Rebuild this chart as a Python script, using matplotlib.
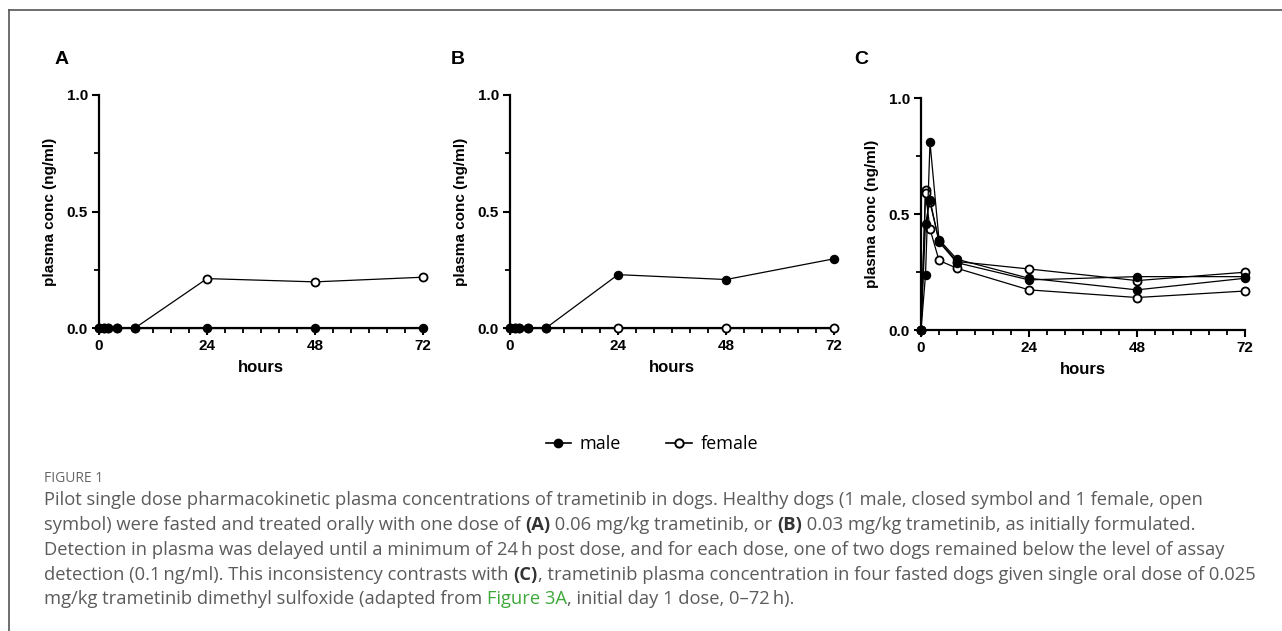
import matplotlib.pyplot as plt
from matplotlib.lines import Line2D
from matplotlib.ticker import MultipleLocator, FixedLocator

# sampling times (hours)
hours = [0, 1, 2, 4, 8, 24, 48, 72]

# panel A: 0.06 mg/kg
a_male = [0, 0, 0, 0, 0, 0, 0, 0]
a_female = [0, 0, 0, 0, 0, 0.212, 0.198, 0.218]

# panel B: 0.03 mg/kg
b_male = [0, 0, 0, 0, 0, 0.229, 0.208, 0.297]
b_female = [0, 0, 0, 0, 0, 0, 0, 0]

# panel C: four fasted dogs, 0.025 mg/kg
c_male1 = [0, 0.237, 0.809, 0.39, 0.305, 0.223, 0.173, 0.223]
c_male2 = [0, 0.458, 0.56, 0.38, 0.29, 0.216, 0.23, 0.23]
c_female1 = [0, 0.604, 0.55, 0.385, 0.295, 0.263, 0.213, 0.249]
c_female2 = [0, 0.59, 0.435, 0.30, 0.266, 0.173, 0.14, 0.168]

panel_letters = ['A', 'B', 'C']
x_ticks = [0, 24, 48, 72]
y_ticks = [0.0, 0.5, 1.0]
y_ticklabels = ['0.0', '0.5', '1.0']

W, H = 1282, 631
fig = plt.figure(figsize=(W / 100, H / 100), dpi=100)

axfont = ['Liberation Sans', 'DejaVu Sans']
capfont = ['Open Sans', 'DejaVu Sans']


def fx(px):
    return px / W


def fy(py):
    return 1 - py / H


def male_line(ax, y):
    ax.plot(hours, y, color='black', lw=0.9, marker='o', ms=5.8,
            mfc='black', mec='black', clip_on=False, zorder=4)


def female_line(ax, y):
    ax.plot(hours, y, color='black', lw=0.9, marker='o', ms=5.8,
            mfc='white', mec='black', mew=1.3, clip_on=False, zorder=3)


def style_axes(ax):
    ax.set_xlim(0, 72)
    ax.set_ylim(0, 1)
    for s in ['top', 'right']:
        ax.spines[s].set_visible(False)
    for s in ['left', 'bottom']:
        ax.spines[s].set_linewidth(1.6)
    ax.set_xticks(x_ticks)
    ax.xaxis.set_minor_locator(MultipleLocator(4))
    ax.set_yticks(y_ticks)
    ax.set_yticklabels(y_ticklabels)
    ax.yaxis.set_minor_locator(FixedLocator([0.25, 0.75]))
    ax.tick_params(which='major', length=5, width=1.5, direction='out', pad=3)
    ax.tick_params(which='minor', length=3.5, width=1.3, direction='out')
    for lab in ax.get_xticklabels() + ax.get_yticklabels():
        lab.set_fontfamily(axfont)
        lab.set_fontweight('bold')
        lab.set_fontsize(11)
    ax.set_xlabel('hours', family=axfont, fontweight='bold', fontsize=12, labelpad=5)
    ax.set_ylabel('plasma conc (ng/ml)', family=axfont, fontweight='bold', fontsize=11, labelpad=7)


axA = fig.add_axes([fx(99), fy(328), fx(324), 233 / H])
axB = fig.add_axes([fx(510), fy(328), fx(324), 233 / H])
axC = fig.add_axes([fx(921), fy(330), fx(324), 232 / H])

female_line(axA, a_female)
male_line(axA, a_male)
female_line(axB, b_female)
male_line(axB, b_male)
female_line(axC, c_female1)
female_line(axC, c_female2)
male_line(axC, c_male1)
male_line(axC, c_male2)

for ax in [axA, axB, axC]:
    style_axes(ax)

for letter, px in zip(panel_letters, [55, 451, 854]):
    fig.text(fx(px), fy(59), letter, family=axfont, fontweight='bold',
             fontsize=14, va='center', ha='left')

# legend
handles = [
    Line2D([], [], color='black', lw=1.2, marker='o', ms=6, mfc='black', mec='black'),
    Line2D([], [], color='black', lw=1.2, marker='o', ms=6, mfc='white', mec='black', mew=1.4),
]
fig.legend(handles, ['male', 'female'], loc='center', bbox_to_anchor=(fx(652), fy(444)),
           ncol=2, frameon=False, handlelength=1.4, columnspacing=2.5, handletextpad=0.5,
           prop={'family': capfont, 'size': 13})

# frame lines (top and left)
fig.add_artist(Line2D([fx(9), 1], [fy(10), fy(10)], color='#555555', lw=1.2))
fig.add_artist(Line2D([fx(9), fx(9)], [fy(10), 0], color='#555555', lw=1.2))

# caption
gray = '#5b5b5b'
green = '#3ea83a'
fig.text(fx(44), fy(478), 'FIGURE 1', family=capfont, fontsize=10, color='#666666',
         va='center', ha='left')

caption = [
    [('Pilot single dose pharmacokinetic plasma concentrations of trametinib in dogs. '
      'Healthy dogs (1 male, closed symbol and 1 female, open', 'n')],
    [('symbol) were fasted and treated orally with one dose of ', 'n'), ('(A)', 'b'),
     (' 0.06 mg/kg trametinib, or ', 'n'), ('(B)', 'b'),
     (' 0.03 mg/kg trametinib, as initially formulated.', 'n')],
    [('Detection in plasma was delayed until a minimum of 24\u2009h post dose, and for each dose, '
      'one of two dogs remained below the level of assay', 'n')],
    [('detection (0.1\u2009ng/ml). This inconsistency contrasts with ', 'n'), ('(C)', 'b'),
     (', trametinib plasma concentration in four fasted dogs given single oral dose of 0.025', 'n')],
    [('mg/kg trametinib dimethyl sulfoxide (adapted from ', 'n'), ('Figure 3A', 'g'),
     (', initial day 1 dose, 0\u201372\u2009h).', 'n')],
]

renderer = fig.canvas.get_renderer()
line_y = [500, 525, 550, 575, 599]
for pieces, py in zip(caption, line_y):
    x = 44
    for txt, kind in pieces:
        color = gray
        weight = 'normal'
        if kind == 'b':
            weight = 'bold'
            color = '#333333'
        elif kind == 'g':
            color = green
        t = fig.text(fx(x), fy(py), txt, family=capfont, fontsize=13.25, color=color,
                     fontweight=weight, va='center', ha='left')
        bb = t.get_window_extent(renderer=renderer)
        x += bb.width

fig.savefig('out.png', dpi=100)
